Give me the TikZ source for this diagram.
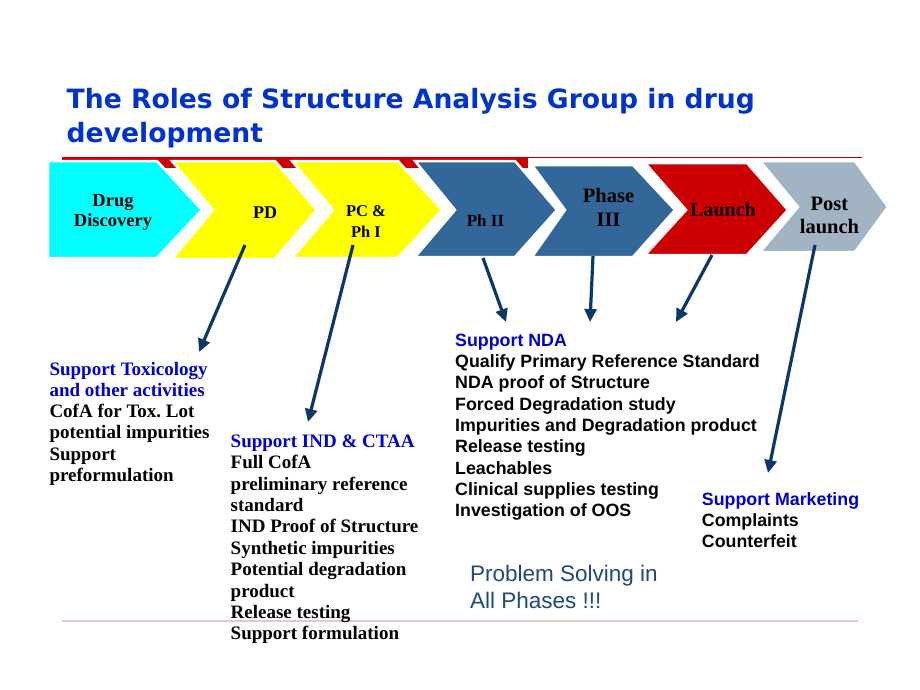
\documentclass[tikz,border=0pt]{standalone}
\usepackage{fontspec}
\setmainfont{Liberation Serif}
\newfontfamily\titlefont{DejaVu Sans}
\newfontfamily\arialfont{Liberation Sans}
\usetikzlibrary{arrows.meta}
\definecolor{cyanC}{HTML}{00FFFF}
\definecolor{yellowC}{HTML}{FFFF00}
\definecolor{blueC}{HTML}{336699}
\definecolor{redC}{HTML}{CC0000}
\definecolor{grayC}{HTML}{A2B3C4}
\definecolor{arrowC}{HTML}{0B3868}
\definecolor{titleC}{HTML}{0033CC}
\definecolor{headC}{HTML}{0000CC}
\definecolor{probC}{HTML}{1F497D}
\definecolor{pinkC}{HTML}{F2C4C4}
\newcommand{\tstrut}{\rule{0pt}{0.8em}}
\frenchspacing
\begin{document}
\begin{tikzpicture}[x=1pt,y=-1pt,
  chev/.style={draw=white, line width=2.5pt, line join=miter},
  conn/.style={draw=arrowC, line width=3.2pt, -{Triangle[length=13pt,width=12pt]}},
  chlabel/.style={anchor=base, inner sep=0pt},
  block/.style={anchor=north west, inner sep=0pt, align=left},
]
\useasboundingbox (0,0) rectangle (920,690);
\fill[white] (0,0) rectangle (920,690);

% top red bar
\fill[redC] (62,157) rectangle (528,168);
\draw[redC, line width=1pt] (62,157.5) -- (862,157.5);

% chevrons
\filldraw[chev, fill=cyanC]   (48,161) -- (157,161) -- (202,210) -- (157,258) -- (48,258) -- cycle;
\filldraw[chev, fill=yellowC] (172,161) -- (275,161) -- (317,210) -- (275,259) -- (172,259) -- (213,210) -- cycle;
\filldraw[chev, fill=yellowC] (292,161) -- (398,161) -- (442,210) -- (398,258) -- (292,258) -- (333,210) -- cycle;
\filldraw[chev, fill=blueC]   (415,161) -- (515,161) -- (557,210) -- (515,257) -- (415,257) -- (455,210) -- cycle;
\filldraw[chev, fill=blueC]   (532,165) -- (633,165) -- (675,210) -- (633,257) -- (532,257) -- (565,210) -- cycle;
\filldraw[chev, fill=redC]    (645,163) -- (747,163) -- (788,210) -- (747,255) -- (645,255) -- (686,210) -- cycle;
\filldraw[chev, fill=grayC]   (760,161) -- (855,161) -- (888,207) -- (855,252) -- (760,252) -- (798,207) -- cycle;

% chevron labels
\node[chlabel, font=\bfseries\fontsize{18.5}{21}\selectfont] (dd1) at (113,206) {Drug};
\node[chlabel, font=\bfseries\fontsize{18.5}{21}\selectfont] (dd2) at (113,226.7) {Discovery};
\node[chlabel, font=\bfseries\fontsize{18}{21}\selectfont] (pd) at (265,218.3) {PD};
\node[chlabel, font=\bfseries\fontsize{16.5}{21}\selectfont] (pc1) at (366,216) {PC \&};
\node[chlabel, font=\bfseries\fontsize{16.5}{21}\selectfont] (pc2) at (366,237.3) {Ph I};
\node[chlabel, font=\bfseries\fontsize{17}{21}\selectfont] (ph2) at (485.5,226) {Ph II};
\node[chlabel, font=\bfseries\fontsize{20.5}{24}\selectfont] (ph3a) at (608.5,202.3) {Phase};
\node[chlabel, font=\bfseries\fontsize{20.5}{24}\selectfont] (ph3b) at (608.5,226) {III};
\node[chlabel, font=\bfseries\fontsize{20}{24}\selectfont] (lau) at (723,216) {Launch};
\node[chlabel, font=\bfseries\fontsize{20.5}{24}\selectfont] (pl1) at (829.5,210) {Post};
\node[chlabel, font=\bfseries\fontsize{20.5}{24}\selectfont] (pl2) at (829.5,233.3) {launch};

% bottom pink line
\draw[pinkC, line width=2pt] (62,621) -- (858,621);

% title
\node[block, font=\titlefont\bfseries\fontsize{26.6}{33.4}\selectfont, text=titleC] (title) at (66.5,87.3)
  {\tstrut The Roles of Structure Analysis Group in drug\\development};

% text blocks
\node[block, font=\bfseries\fontsize{19}{21.2}\selectfont] (tox) at (49.3,359.8)
  {\tstrut\textcolor{headC}{Support Toxicology}\\
   \textcolor{headC}{and other activities}\\
   CofA for Tox. Lot\\
   potential impurities\\
   Support\\
   preformulation};

\node[block, font=\bfseries\fontsize{19}{21.4}\selectfont] (ind) at (230.5,431.8)
  {\tstrut\textcolor{headC}{Support IND \& CTAA}\\
   Full CofA\\
   preliminary reference\\
   standard\\
   IND Proof of Structure\\
   Synthetic impurities\\
   Potential degradation\\
   product\\
   Release testing\\
   Support formulation};

\node[block, font=\arialfont\bfseries\fontsize{17.8}{21.3}\selectfont] (nda) at (455,331.8)
  {\tstrut\textcolor{headC}{Support NDA}\\
   Qualify Primary Reference Standard\\
   NDA proof of Structure\\
   Forced Degradation study\\
   Impurities and Degradation product\\
   Release testing\\
   Leachables\\
   Clinical supplies testing\\
   Investigation of OOS};

\node[block, font=\arialfont\bfseries\fontsize{17.8}{21.2}\selectfont] (mkt) at (701.7,490.8)
  {\tstrut\textcolor{headC}{Support Marketing}\\
   Complaints\\
   Counterfeit};

\node[block, font=\arialfont\fontsize{22.5}{27}\selectfont, text=probC] (prob) at (470,563.7)
  {\tstrut Problem Solving in\\All Phases !!!};

% connectors
\coordinate (aPD) at (245,245);   \coordinate (bPD) at (199,352);
\coordinate (aPC) at (353,245);   \coordinate (bPC) at (308,422);
\coordinate (aP2) at (483,258);   \coordinate (bP2) at (506,322);
\coordinate (aP3) at (593,256);   \coordinate (bP3) at (590,322);
\coordinate (aLa) at (712,255);   \coordinate (bLa) at (676,322);
\coordinate (aPo) at (815,245);   \coordinate (bPo) at (768,473);
\draw[conn] (aPD) -- (bPD);
\draw[conn] (aPC) -- (bPC);
\draw[conn] (aP2) -- (bP2);
\draw[conn] (aP3) -- (bP3);
\draw[conn] (aLa) -- (bLa);
\draw[conn] (aPo) -- (bPo);
\end{tikzpicture}
\end{document}
